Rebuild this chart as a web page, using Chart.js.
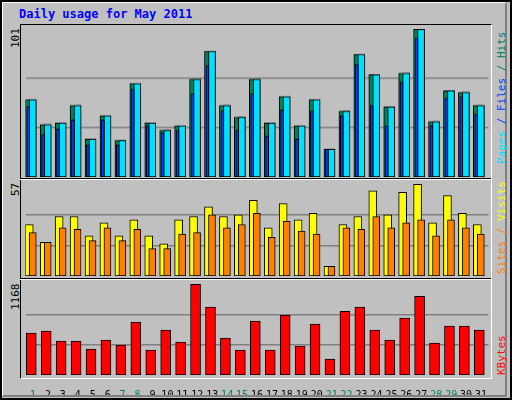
<!DOCTYPE html>
<html><head><meta charset="utf-8">
<script src="https://cdn.jsdelivr.net/npm/chart.js@4"></script>
<style>
body{margin:0;width:512px;height:400px;overflow:hidden;background:#c0c0c0;}
#wrap{position:absolute;left:0;top:0;width:508px;height:396px;border:2px solid #000;background:#c0c0c0;}
.bev{position:absolute;left:2px;top:2px;width:502px;height:392px;border-left:1px solid #fff;border-top:1px solid #fff;border-right:2px solid #808080;border-bottom:2px solid #808080;}
.frame{position:absolute;left:20px;top:24px;width:470px;height:353px;border-left:1px solid #000;border-top:1px solid #000;border-right:1px solid #fff;border-bottom:1px solid #fff;}
.div{position:absolute;left:20px;width:471px;height:1px;}
canvas{position:absolute;left:0;}
.t{position:absolute;font-family:"DejaVu Sans Mono",monospace;white-space:nowrap;}
.rot{transform-origin:0 0;transform:rotate(-90deg);font-size:11px;}
</style></head><body>
<div id="wrap"></div><div class="bev"></div><div class="frame"></div>
<div class="div" style="top:178px;background:#000"></div><div class="div" style="top:179px;background:#fff"></div>
<div class="div" style="top:278px;background:#000"></div><div class="div" style="top:279px;background:#fff"></div>
<div class="t" style="left:19px;top:7px;font-size:12px;font-weight:bold;color:#0000ff">Daily usage for May 2011</div>
<div class="t rot" style="left:9px;top:48px;color:#000">101</div>
<div class="t rot" style="left:9px;top:196px;color:#000">57</div>
<div class="t rot" style="left:9px;top:310px;color:#000">1168</div>
<div class="t rot" style="left:495px;top:164px;"><span style="color:#00e0ff">Pages</span><span style="color:#0040ff"> / Files </span><span style="color:#00805c">/ Hits</span></div>
<div class="t rot" style="left:495px;top:274px;"><span style="color:#ff8000">Sites</span><span style="color:#ff8000"> / </span><span style="color:#ffff00">Visits</span></div>
<div class="t rot" style="left:495px;top:375px;color:#ff0000">KBytes</div>
<canvas id="c1"></canvas><canvas id="c2"></canvas><canvas id="c3"></canvas>
<script>
const days = Array.from({length:31},(_,i)=>String(i+1));
const weekend = [1,7,8,14,15,21,22,28,29];
const hits   = [53,36,37,49,26,42,25,64,37,32,35,67,86,49,41,67,37,55,35,53,19,45,84,70,48,71,101,38,59,58,49];
const pages  = [53,36,37,49,26,42,25,64,37,32,35,67,86,49,41,67,37,55,35,53,19,45,84,70,48,71,101,38,59,58,49];
const files  = [48,29,33,39,22,39,22,60,35,30,32,57,76,45,32,57,28,46,26,45,19,42,77,49,35,65,95,35,54,55,43];
const visits = [32,21,37,37,25,33,25,35,25,20,35,37,43,37,38,47,30,45,35,39,6,32,37,53,38,52,57,33,50,39,32];
const sites  = [27,21,30,29,22,30,22,29,17,17,26,27,38,30,32,39,24,34,28,26,6,30,29,37,30,33,35,25,35,30,26];
const kbytes = [539,565,436,436,334,449,385,680,321,578,424,1168,873,475,321,693,321,770,372,655,205,821,873,578,449,732,1014,411,629,629,578];

const shift = {id:'shift',afterDatasetsUpdate(chart){
  const xs=chart.scales.x;
  chart.data.datasets.forEach((ds,di)=>{
    chart.getDatasetMeta(di).data.forEach((el,i)=>{
      const c=xs.getPixelForValue(i);
      el.x=c+(ds.l+ds.r)/2; el.width=ds.r-ds.l;
    });
  });
}};
function mk(id,top,h,max,sets,showX){
  const cv=document.getElementById(id);
  cv.style.top=top+'px';cv.width=512;cv.height=h;cv.style.width='512px';cv.style.height=h+'px';
  const xopt={display:showX,grid:{display:false},border:{display:false},
           ticks:{autoSkip:false,maxRotation:0,minRotation:0,padding:6,font:{family:'DejaVu Sans Mono',size:10},
             color:c=>weekend.includes(c.index+1)?'#00805c':'#000'}};
  if(showX) xopt.afterFit=s=>{s.height=20;};
  new Chart(cv,{type:'bar',data:{labels:days,datasets:sets.map(s=>Object.assign({grouped:false,borderColor:'#000',borderWidth:1,borderSkipped:false,barPercentage:1,categoryPercentage:1},s))},
    options:{responsive:false,animation:false,devicePixelRatio:1,
      layout:{padding:{left:25.5,right:23.5,top:0,bottom:0}},
      plugins:{legend:{display:false},tooltip:{enabled:false}},
      scales:{
        x:xopt,
        y:{min:0,max:max[0],display:true,afterFit:s=>{s.width=0;},
           afterBuildTicks:s=>{s.ticks=[{value:max[1]/3},{value:max[1]*2/3}];},
           ticks:{display:false},border:{display:false},grid:{color:'#808080',lineWidth:1.5,drawTicks:false}}
      }},plugins:[shift]});
}
mk('c1',25,151.5,[104,101],[
  {data:files,backgroundColor:'#0040ff',l:-6.3,r:-3.3,order:0},
  {data:pages,backgroundColor:'#00e0ff',l:-3.7,r:3.3,order:1},
  {data:hits,backgroundColor:'#00805c',l:-7.7,r:3.3,order:2}],false);
mk('c2',180,96.3,[59.7,57],[
  {data:sites,backgroundColor:'#ff8000',l:-3.7,r:3.3,order:0},
  {data:visits,backgroundColor:'#ffff00',l:-7.7,r:0.3,order:1}],false);
mk('c3',280,115.3,[1223,1168],[
  {data:kbytes,backgroundColor:'#ff0000',l:-6.7,r:3.3,order:0}],true);
</script></body></html>
